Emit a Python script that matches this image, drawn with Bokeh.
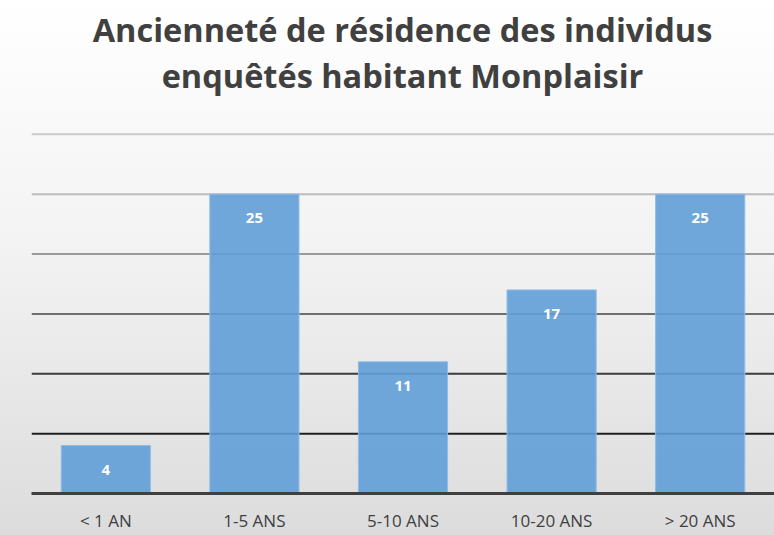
from bokeh.plotting import figure
from bokeh.models import ColumnDataSource, LabelSet, Span, Range1d, Div
from bokeh.layouts import column
from bokeh.core.properties import value
from bokeh.embed import file_html
from bokeh.resources import INLINE

categories = ["< 1 AN", "1-5 ANS", "5-10 ANS", "10-20 ANS", "> 20 ANS"]
values = [4, 25, 11, 17, 25]
grid_ticks = [5, 10, 15, 20, 25, 30]
grid_colors = ["#202020", "#3c3c3c", "#6e6e6e", "#9a9a9a", "#bdbdbd", "#cacaca"]
title_lines = ["Ancienneté de résidence des individus", "enquêtés habitant Monplaisir"]

src = ColumnDataSource(dict(cat=categories, val=values, lab=[str(v) for v in values]))

title_html = (
    '<div style="width:743px; margin-left:31px; padding-top:7px; text-align:center; '
    'font-family:\'Open Sans\'; font-weight:bold; font-size:32.5px; line-height:46px; '
    'color:#404040; white-space:nowrap;">'
    + "<br>".join(title_lines) + "</div>"
)
head = Div(text=title_html, width=774, height=124, margin=0)

p = figure(x_range=categories, y_range=Range1d(0, 30.15), width=774, height=411,
           output_backend="svg", toolbar_location=None, title=None, margin=0,
           min_border_left=31, min_border_right=0, min_border_top=8, min_border_bottom=42)

p.background_fill_color = None
p.border_fill_color = None
p.outline_line_color = None

p.xgrid.visible = False
p.ygrid.visible = False
p.yaxis.visible = False

for t, c in zip(grid_ticks, grid_colors):
    p.add_layout(Span(location=t, dimension="width", line_color=c, line_width=2, level="underlay"))

p.vbar(x="cat", top="val", width=0.6, source=src, fill_color="#629ed7", fill_alpha=0.9,
       line_color="#8fbbe6", line_width=1)

p.add_layout(LabelSet(x="cat", y="val", text="lab", source=src, y_offset=-24,
                      text_align="center", text_baseline="middle", text_color="white",
                      text_font=value("Open Sans"), text_font_style="bold", text_font_size="15px"))

ax = p.xaxis[0]
ax.axis_line_color = "#404040"
ax.axis_line_width = 3
ax.major_tick_line_color = None
ax.minor_tick_line_color = None
ax.major_label_standoff = 9
ax.major_label_text_font = "Open Sans"
ax.major_label_text_font_size = "17px"
ax.major_label_text_color = "#404040"

layout = column(head, p, spacing=0, margin=0,
                styles={"background": "linear-gradient(to bottom, #ffffff 0%, #f3f3f3 45%, #dcdcdc 100%)"})

open("out.html", "w").write(file_html(layout, INLINE))
